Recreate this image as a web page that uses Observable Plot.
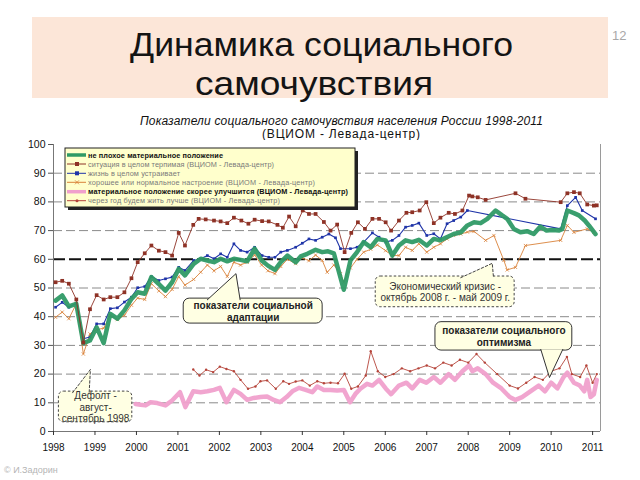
<!DOCTYPE html>
<html><head><meta charset="utf-8">
<script src="https://cdn.jsdelivr.net/npm/d3@7"></script>
<script src="https://cdn.jsdelivr.net/npm/@observablehq/plot@0.6"></script>
<style>
html,body{margin:0;padding:0;background:#fff;}
#wrap{position:relative;width:640px;height:480px;overflow:hidden;font-family:"Liberation Sans",Arial,sans-serif;}
#chart{position:absolute;left:0;top:136px;}
#head{position:absolute;left:0;top:0;}
#legend{position:absolute;left:0;top:0;}
#foot{position:absolute;left:4px;top:465px;font-size:9px;color:#b5b5b5;}
</style></head><body>
<div id="wrap">
<div id="chart"></div>
<svg id="head" width="640" height="140"></svg>
<svg id="legend" width="370" height="215"></svg>
<div id="foot">© И.Задорин</div>
</div>
<script>
// ---------- data ----------
const years = [1998,1999,2000,2001,2002,2003,2004,2005,2006,2007,2008,2009,2010,2011];
const yTicks = [0,10,20,30,40,50,60,70,80,90,100];
const gridVals = [10,20,30,40,50,70,80,90];
const boldGrid = [60];

// не плохое материальное положение
const green = [[1998.05,45.6],[1998.21,47.4],[1998.37,43.6],[1998.55,44.5],[1998.72,30.8],[1998.88,31.7],[1999.04,36.3],[1999.21,30.8],[1999.37,41.0],[1999.54,39.3],[1999.71,42.2],[1999.88,46.2],[2000.03,48.5],[2000.2,48.0],[2000.36,53.8],[2000.54,51.4],[2000.7,49.1],[2000.86,52.0],[2001.02,56.7],[2001.17,54.4],[2001.38,58.4],[2001.55,60.2],[2001.71,59.6],[2001.87,59.0],[2002.03,60.2],[2002.19,59.3],[2002.35,60.2],[2002.51,59.8],[2002.67,59.3],[2002.85,63.7],[2003.02,59.6],[2003.17,57.8],[2003.34,56.3],[2003.48,59.0],[2003.64,61.3],[2003.84,59.0],[2003.96,61.0],[2004.12,61.9],[2004.32,63.3],[2004.48,62.5],[2004.62,62.8],[2004.76,62.1],[2005.0,49.4],[2005.16,59.6],[2005.32,62.5],[2005.48,66.0],[2005.65,64.2],[2005.81,67.1],[2006.01,66.6],[2006.17,61.3],[2006.33,64.8],[2006.49,66.6],[2006.65,66.0],[2006.81,66.8],[2007.0,64.8],[2007.17,67.1],[2007.33,66.6],[2007.48,67.7],[2007.65,68.8],[2007.82,69.4],[2007.98,71.8],[2008.14,72.9],[2008.3,72.6],[2008.46,74.1],[2008.66,77.0],[2008.82,75.3],[2008.94,74.1],[2009.1,70.6],[2009.26,69.4],[2009.42,69.8],[2009.58,68.8],[2009.74,71.4],[2009.89,70.0],[2010.03,70.2],[2010.19,70.0],[2010.27,70.6],[2010.39,77.0],[2010.55,76.1],[2010.67,75.3],[2010.81,73.5],[2010.91,71.8],[2011.07,68.8]];

// ситуация в целом терпимая
const brown = [[1998.05,52.0],[1998.21,52.5],[1998.37,51.5],[1998.55,46.0],[1998.72,31.0],[1998.88,42.6],[1999.04,47.5],[1999.21,46.0],[1999.37,46.8],[1999.54,46.8],[1999.71,48.5],[1999.88,53.4],[2000.03,59.0],[2000.2,62.1],[2000.36,64.8],[2000.54,63.0],[2000.7,62.5],[2000.86,61.3],[2001.02,69.2],[2001.17,64.8],[2001.37,72.0],[2001.5,74.1],[2001.67,73.9],[2001.87,73.5],[2002.03,73.2],[2002.19,72.6],[2002.35,74.5],[2002.53,73.5],[2002.7,72.4],[2002.85,73.8],[2003.03,73.3],[2003.19,73.2],[2003.4,72.0],[2003.53,71.0],[2003.68,74.9],[2003.84,71.5],[2004.01,77.0],[2004.16,75.8],[2004.32,75.8],[2004.52,73.0],[2004.68,70.0],[2004.84,72.1],[2005.02,62.5],[2005.18,69.2],[2005.34,72.9],[2005.51,70.6],[2005.69,74.1],[2005.85,74.1],[2006.01,72.9],[2006.14,70.0],[2006.33,73.5],[2006.51,76.2],[2006.65,76.4],[2006.83,77.0],[2006.99,79.9],[2007.17,72.6],[2007.33,74.5],[2007.53,76.2],[2007.68,75.8],[2007.86,77.0],[2008.02,82.2],[2008.1,81.9],[2008.23,81.6],[2008.42,80.7],[2009.14,83.0],[2009.38,81.1],[2010.23,79.9],[2010.39,83.0],[2010.55,83.4],[2010.69,83.0],[2010.87,79.1],[2011.03,78.7],[2011.1,78.8]];

// жизнь в целом устраивает
const blue = [[1998.05,43.3],[1998.21,45.0],[1998.37,43.3],[1998.55,44.7],[1998.72,32.3],[1998.88,32.9],[1999.04,37.5],[1999.21,37.5],[1999.37,42.8],[1999.54,43.1],[1999.71,45.1],[1999.88,46.8],[2000.03,50.1],[2000.2,50.5],[2000.36,54.0],[2000.54,52.6],[2000.7,53.2],[2000.86,53.8],[2001.02,57.2],[2001.17,56.1],[2001.38,59.6],[2001.55,60.2],[2001.71,61.3],[2001.87,60.2],[2002.03,61.9],[2002.19,60.7],[2002.35,65.4],[2002.51,63.1],[2002.67,62.5],[2002.85,64.2],[2003.03,61.3],[2003.19,60.7],[2003.34,60.7],[2003.48,62.5],[2003.64,63.1],[2003.84,64.2],[2004.0,65.6],[2004.16,67.1],[2004.32,66.6],[2004.48,67.7],[2004.64,68.8],[2004.8,67.5],[2004.92,63.7],[2005.16,63.7],[2005.32,64.2],[2005.48,66.0],[2005.69,69.2],[2005.85,67.7],[2006.01,66.0],[2006.17,66.6],[2006.33,68.3],[2006.49,71.2],[2006.65,71.8],[2006.81,72.6],[2007.0,68.3],[2007.17,68.9],[2007.33,67.1],[2007.49,72.4],[2007.65,73.5],[2007.82,74.7],[2007.98,77.0],[2010.23,70.6],[2010.39,78.7],[2010.59,81.6],[2010.75,77.0],[2011.07,74.1]];

// хорошее или нормальное настроение
const orange = [[1998.05,39.8],[1998.21,41.6],[1998.37,39.3],[1998.55,44.5],[1998.72,27.0],[1998.88,34.0],[1999.04,35.5],[1999.21,36.0],[1999.37,40.5],[1999.54,39.0],[1999.71,40.5],[1999.88,44.0],[2000.03,46.5],[2000.2,46.0],[2000.36,51.5],[2000.54,49.0],[2000.7,47.0],[2000.86,49.5],[2001.02,54.0],[2001.17,51.0],[2001.38,53.0],[2001.55,55.5],[2001.71,58.0],[2001.87,56.0],[2002.03,57.5],[2002.19,54.0],[2002.35,59.0],[2002.51,58.0],[2002.67,59.0],[2002.85,61.5],[2003.02,58.0],[2003.17,56.0],[2003.34,55.0],[2003.48,57.5],[2003.64,60.0],[2003.84,58.5],[2004.0,60.5],[2004.16,59.5],[2004.32,61.5],[2004.48,59.6],[2004.6,55.5],[2004.76,58.0],[2004.92,55.0],[2005.0,52.0],[2005.16,57.0],[2005.32,60.0],[2005.48,62.5],[2005.65,63.5],[2005.81,65.0],[2006.01,63.0],[2006.17,61.3],[2006.33,61.3],[2006.49,64.2],[2006.65,63.1],[2006.81,65.4],[2007.0,62.5],[2007.17,64.2],[2007.33,65.4],[2007.49,67.1],[2007.65,68.3],[2007.82,68.8],[2007.98,69.5],[2008.14,69.7],[2008.42,66.6],[2008.62,68.3],[2008.86,59.6],[2008.94,56.3],[2009.14,57.2],[2009.38,64.8],[2010.23,66.6],[2010.39,71.8],[2010.55,69.4],[2010.87,70.6],[2011.03,69.4]];

// материальное положение скорее улучшится
const pink = [[1999.98,9.6],[2000.1,9.3],[2000.22,9.1],[2000.34,10.2],[2000.5,9.9],[2000.7,9.1],[2000.86,10.8],[2001.05,13.7],[2001.18,8.5],[2001.37,14.0],[2001.55,13.7],[2001.71,14.0],[2001.87,14.5],[2002.01,15.2],[2002.17,10.2],[2002.35,14.5],[2002.51,13.1],[2002.67,11.0],[2002.83,11.7],[2002.99,12.0],[2003.15,12.2],[2003.31,11.0],[2003.46,10.2],[2003.62,12.0],[2003.76,14.0],[2003.92,15.2],[2004.08,14.5],[2004.24,13.7],[2004.36,15.7],[2004.52,14.5],[2004.68,14.5],[2004.84,14.3],[2005.0,14.5],[2005.15,10.2],[2005.28,13.1],[2005.4,14.9],[2005.56,16.6],[2005.69,16.0],[2005.85,18.0],[2006.01,15.0],[2006.14,13.0],[2006.33,16.0],[2006.51,17.0],[2006.65,15.0],[2006.83,18.0],[2006.99,17.0],[2007.17,19.0],[2007.33,17.0],[2007.53,20.0],[2007.68,18.0],[2007.86,21.0],[2008.02,23.0],[2008.1,21.0],[2008.23,22.0],[2008.42,20.0],[2008.6,17.0],[2008.8,15.0],[2009.0,12.0],[2009.14,11.0],[2009.3,12.0],[2009.5,14.0],[2009.7,16.0],[2009.85,14.0],[2010.0,17.0],[2010.15,15.0],[2010.3,19.0],[2010.39,20.5],[2010.55,17.0],[2010.69,16.0],[2010.8,14.0],[2010.87,18.0],[2010.95,12.0],[2011.03,13.0],[2011.1,18.0]];

// через год будем жить лучше
const red = [[2001.37,21.6],[2001.52,19.5],[2001.68,21.5],[2001.85,20.7],[2002.01,22.6],[2002.17,21.8],[2002.35,21.0],[2002.51,18.0],[2002.69,14.9],[2002.87,15.7],[2002.99,17.5],[2003.15,17.8],[2003.36,14.9],[2003.54,17.5],[2003.68,16.6],[2003.84,17.4],[2004.0,17.8],[2004.18,16.0],[2004.36,17.5],[2004.52,16.8],[2004.68,17.0],[2004.86,16.8],[2005.02,20.1],[2005.18,14.9],[2005.34,15.7],[2005.53,19.5],[2005.65,28.0],[2005.82,21.0],[2006.0,19.0],[2006.2,20.0],[2006.4,22.0],[2006.6,21.0],[2006.8,22.0],[2007.0,23.0],[2007.2,22.0],[2007.4,24.0],[2007.6,23.0],[2007.8,25.0],[2008.0,24.0],[2008.2,27.0],[2008.4,24.0],[2008.7,20.0],[2009.0,16.0],[2009.2,15.0],[2009.4,17.0],[2009.6,19.0],[2009.8,18.0],[2010.0,21.0],[2010.2,22.0],[2010.38,26.0],[2010.5,20.0],[2010.7,19.0],[2010.85,23.0],[2011.0,17.0],[2011.1,20.0]];

const legendLabels = [
  "не плохое материальное положение",
  "ситуация в целом терпимая (ВЦИОМ - Левада-центр)",
  "жизнь в целом устраивает",
  "хорошее или нормальное настроение (ВЦИОМ - Левада-центр)",
  "материальное положение скорее улучшится (ВЦИОМ - Левада-центр)",
  "через год будем жить лучше (ВЦИОМ - Левада-центр)"
];

const titleLines = ["Динамика социального", "самочувствия"];
const subtitleLines = ["Показатели социального самочувствия населения России 1998-2011", "(ВЦИОМ - Левада-центр)"];
const pageNumber = "12";

// callouts (data coordinates)
const notes = [
  {id:"a", lines:["показатели социальной","адаптации"], x1:2001.14, x2:2004.49, y1:37.6, y2:46.3, ptr:[[2001.71,45.9],[2002.4,55.0],[2002.5,45.9]], bold:true, dashed:false},
  {id:"c", lines:["Экономический кризис -","октябрь 2008 г. - май 2009 г."], x1:2005.77, x2:2009.12, y1:43.3, y2:54.0, ptr:[[2007.82,53.6],[2008.58,58.6],[2008.61,53.6]], bold:false, dashed:true},
  {id:"o", lines:["показатели социального","оптимизма"], x1:2007.21, x2:2010.51, y1:28.2, y2:38.1, ptr:[[2009.75,28.6],[2009.96,18.8],[2010.28,28.6]], bold:true, dashed:false},
  {id:"d", lines:["Дефолт -","август-","сентябрь 1998"], x1:1998.13, x2:1999.9, y1:3.2, y2:13.9, ptr:[[1998.46,13.5],[1998.89,21.6],[1998.86,13.5]], bold:false, dashed:true}
];

// ---------- styles ----------
const C = {green:"#2F9A66", brown:"#8E3226", blue:"#1F34A8", orange:"#D9823A", pink:"#F0A0CC", red:"#B5443A"};
const X = d => d[0], Y = d => d[1];
const xMax = 2011.19;

const ptrPts = notes.flatMap(n => n.ptr.map(p => ({id:n.id, x:p[0], y:p[1], dashed:n.dashed})));
const noteFill = "#FFFFE3";

const chart = Plot.plot({
  width: 640, height: 325,
  marginLeft: 53, marginRight: 40, marginTop: 8, marginBottom: 30,
  style: {fontFamily: "'Liberation Sans', Arial, sans-serif", background: "transparent", color: "#111"},
  x: {domain: [1998, xMax]},
  y: {domain: [0, 100]},
  marks: [
    Plot.ruleY(gridVals, {stroke: "#8a8a8a", strokeWidth: 1, strokeDasharray: "9,4"}),
    Plot.ruleY(boldGrid, {stroke: "#111", strokeWidth: 2, strokeDasharray: "12,4"}),
    Plot.ruleX([xMax], {stroke: "#9a9a9a"}),
    Plot.ruleX([1998], {stroke: "#777"}),
    Plot.ruleY([0], {stroke: "#777"}),
    Plot.axisY({ticks: yTicks, tickSize: 5, tickPadding: 3, fontSize: 10.5, label: null, stroke: "#555"}),
    Plot.axisX({ticks: years, tickFormat: d => String(d), tickSize: 4, tickPadding: 8, fontSize: 10, label: null, stroke: "#333"}),
    Plot.line(pink, {x: X, y: Y, stroke: C.pink, strokeWidth: 4.5, strokeOpacity: 0.95}),
    Plot.line(red, {x: X, y: Y, stroke: C.red, strokeWidth: 0.9}),
    Plot.dot(red, {x: X, y: Y, r: 1.2, fill: C.red}),
    Plot.line(orange, {x: X, y: Y, stroke: C.orange, strokeWidth: 0.9}),
    Plot.dot(orange, {x: X, y: Y, symbol: "times", r: 1.6, stroke: C.orange, strokeWidth: 0.8}),
    Plot.line(blue, {x: X, y: Y, stroke: C.blue, strokeWidth: 1.1}),
    Plot.dot(blue, {x: X, y: Y, symbol: "square", r: 1.5, fill: C.blue}),
    Plot.line(green, {x: X, y: Y, stroke: C.green, strokeWidth: 4.5, strokeOpacity: 0.95}),
    Plot.line(brown, {x: X, y: Y, stroke: C.brown, strokeWidth: 0.9}),
    Plot.dot(brown, {x: X, y: Y, symbol: "square", r: 2.1, fill: C.brown}),
    // callouts
    Plot.rect(notes.filter(n => !n.dashed), {x1: "x1", x2: "x2", y1: "y1", y2: "y2", rx: 6, fill: noteFill, stroke: "#333", strokeWidth: 1}),
    Plot.rect(notes.filter(n => n.dashed), {x1: "x1", x2: "x2", y1: "y1", y2: "y2", rx: 5, fill: noteFill, stroke: "#444", strokeWidth: 1, strokeDasharray: "2.5,2"}),
    Plot.line(ptrPts.filter(p => !p.dashed), {x: "x", y: "y", z: "id", fill: noteFill, stroke: "#333", strokeWidth: 1}),
    Plot.line(ptrPts.filter(p => p.dashed), {x: "x", y: "y", z: "id", fill: noteFill, stroke: "#444", strokeWidth: 1, strokeDasharray: "2.5,2"}),
    Plot.text(notes.filter(n => n.bold), {x: d => (d.x1 + d.x2) / 2, y: d => (d.y1 + d.y2) / 2, text: d => d.lines.join("\n"), fontSize: 10, fontWeight: "bold", fill: "#222", lineHeight: 1.2}),
    Plot.text(notes.filter(n => !n.bold), {x: d => (d.x1 + d.x2) / 2, y: d => (d.y1 + d.y2) / 2, text: d => d.lines.join("\n"), fontSize: 10, fill: "#333", lineHeight: 1.15})
  ]
});
document.getElementById("chart").appendChild(chart);

// ---------- header ----------
const ns = "http://www.w3.org/2000/svg";
function el(parent, tag, attrs, text) {
  const e = document.createElementNS(ns, tag);
  for (const k in attrs) e.setAttribute(k, attrs[k]);
  if (text != null) e.textContent = text;
  parent.appendChild(e);
  return e;
}
const head = document.getElementById("head");
el(head, "rect", {x: 32, y: 17, width: 576, height: 81, fill: "#FCE6D8"});
el(head, "text", {x: 130, y: 56, "font-size": 34, fill: "#141414", textLength: 383, lengthAdjust: "spacingAndGlyphs", "font-family": "Liberation Sans Narrow, Liberation Sans, Arial"}, titleLines[0]);
el(head, "text", {x: 195, y: 95, "font-size": 34, fill: "#141414", textLength: 238, lengthAdjust: "spacingAndGlyphs", "font-family": "Liberation Sans Narrow, Liberation Sans, Arial"}, titleLines[1]);
el(head, "text", {x: 612, y: 40, "font-size": 13, fill: "#a8a8a8", "font-family": "Liberation Sans, Arial"}, pageNumber);
el(head, "text", {x: 140, y: 125, "font-size": 12, "font-style": "italic", fill: "#111", textLength: 403, lengthAdjust: "spacing", "font-family": "Liberation Sans, Arial"}, subtitleLines[0]);
el(head, "text", {x: 262, y: 138, "font-size": 12, fill: "#111", textLength: 158, lengthAdjust: "spacing", "font-family": "Liberation Sans, Arial"}, subtitleLines[1]);

// ---------- legend ----------
const lg = document.getElementById("legend");
el(lg, "rect", {x: 68, y: 151, width: 290, height: 59, fill: "#222"});
el(lg, "rect", {x: 65, y: 148, width: 290, height: 59, fill: "#FFFFCC", stroke: "#222", "stroke-width": 1});
const legendStyle = [
  {c: C.green, w: 3.5, m: null, bold: true, len: 135},
  {c: C.brown, w: 1, m: "sq", bold: false, len: 186},
  {c: C.blue, w: 1, m: "sq", bold: false, len: 92},
  {c: C.orange, w: 1, m: "x", bold: false, len: 227},
  {c: C.pink, w: 3.5, m: null, bold: true, len: 260},
  {c: C.red, w: 1, m: "dot", bold: false, len: 192}
];
const rowY = [155, 164, 173.3, 182.3, 191.7, 200.7];
legendLabels.forEach((lab, i) => {
  const s = legendStyle[i], y = rowY[i];
  el(lg, "line", {x1: 67, x2: 86, y1: y, y2: y, stroke: s.c, "stroke-width": s.w});
  if (s.m === "sq") el(lg, "rect", {x: 75, y: y - 2, width: 4, height: 4, fill: s.c});
  if (s.m === "dot") el(lg, "circle", {cx: 77, cy: y, r: 1.5, fill: s.c});
  if (s.m === "x") el(lg, "path", {d: `M75,${y-2}L79,${y+2}M75,${y+2}L79,${y-2}`, stroke: s.c, "stroke-width": 0.8});
  el(lg, "text", {x: 88, y: y + 2.6, "font-size": 7.3, "font-weight": s.bold ? "bold" : "normal", fill: s.bold ? "#111" : "#7a7a7a", textLength: s.len, lengthAdjust: "spacing", "font-family": "Liberation Sans, Arial"}, lab);
});
</script>
</body></html>
